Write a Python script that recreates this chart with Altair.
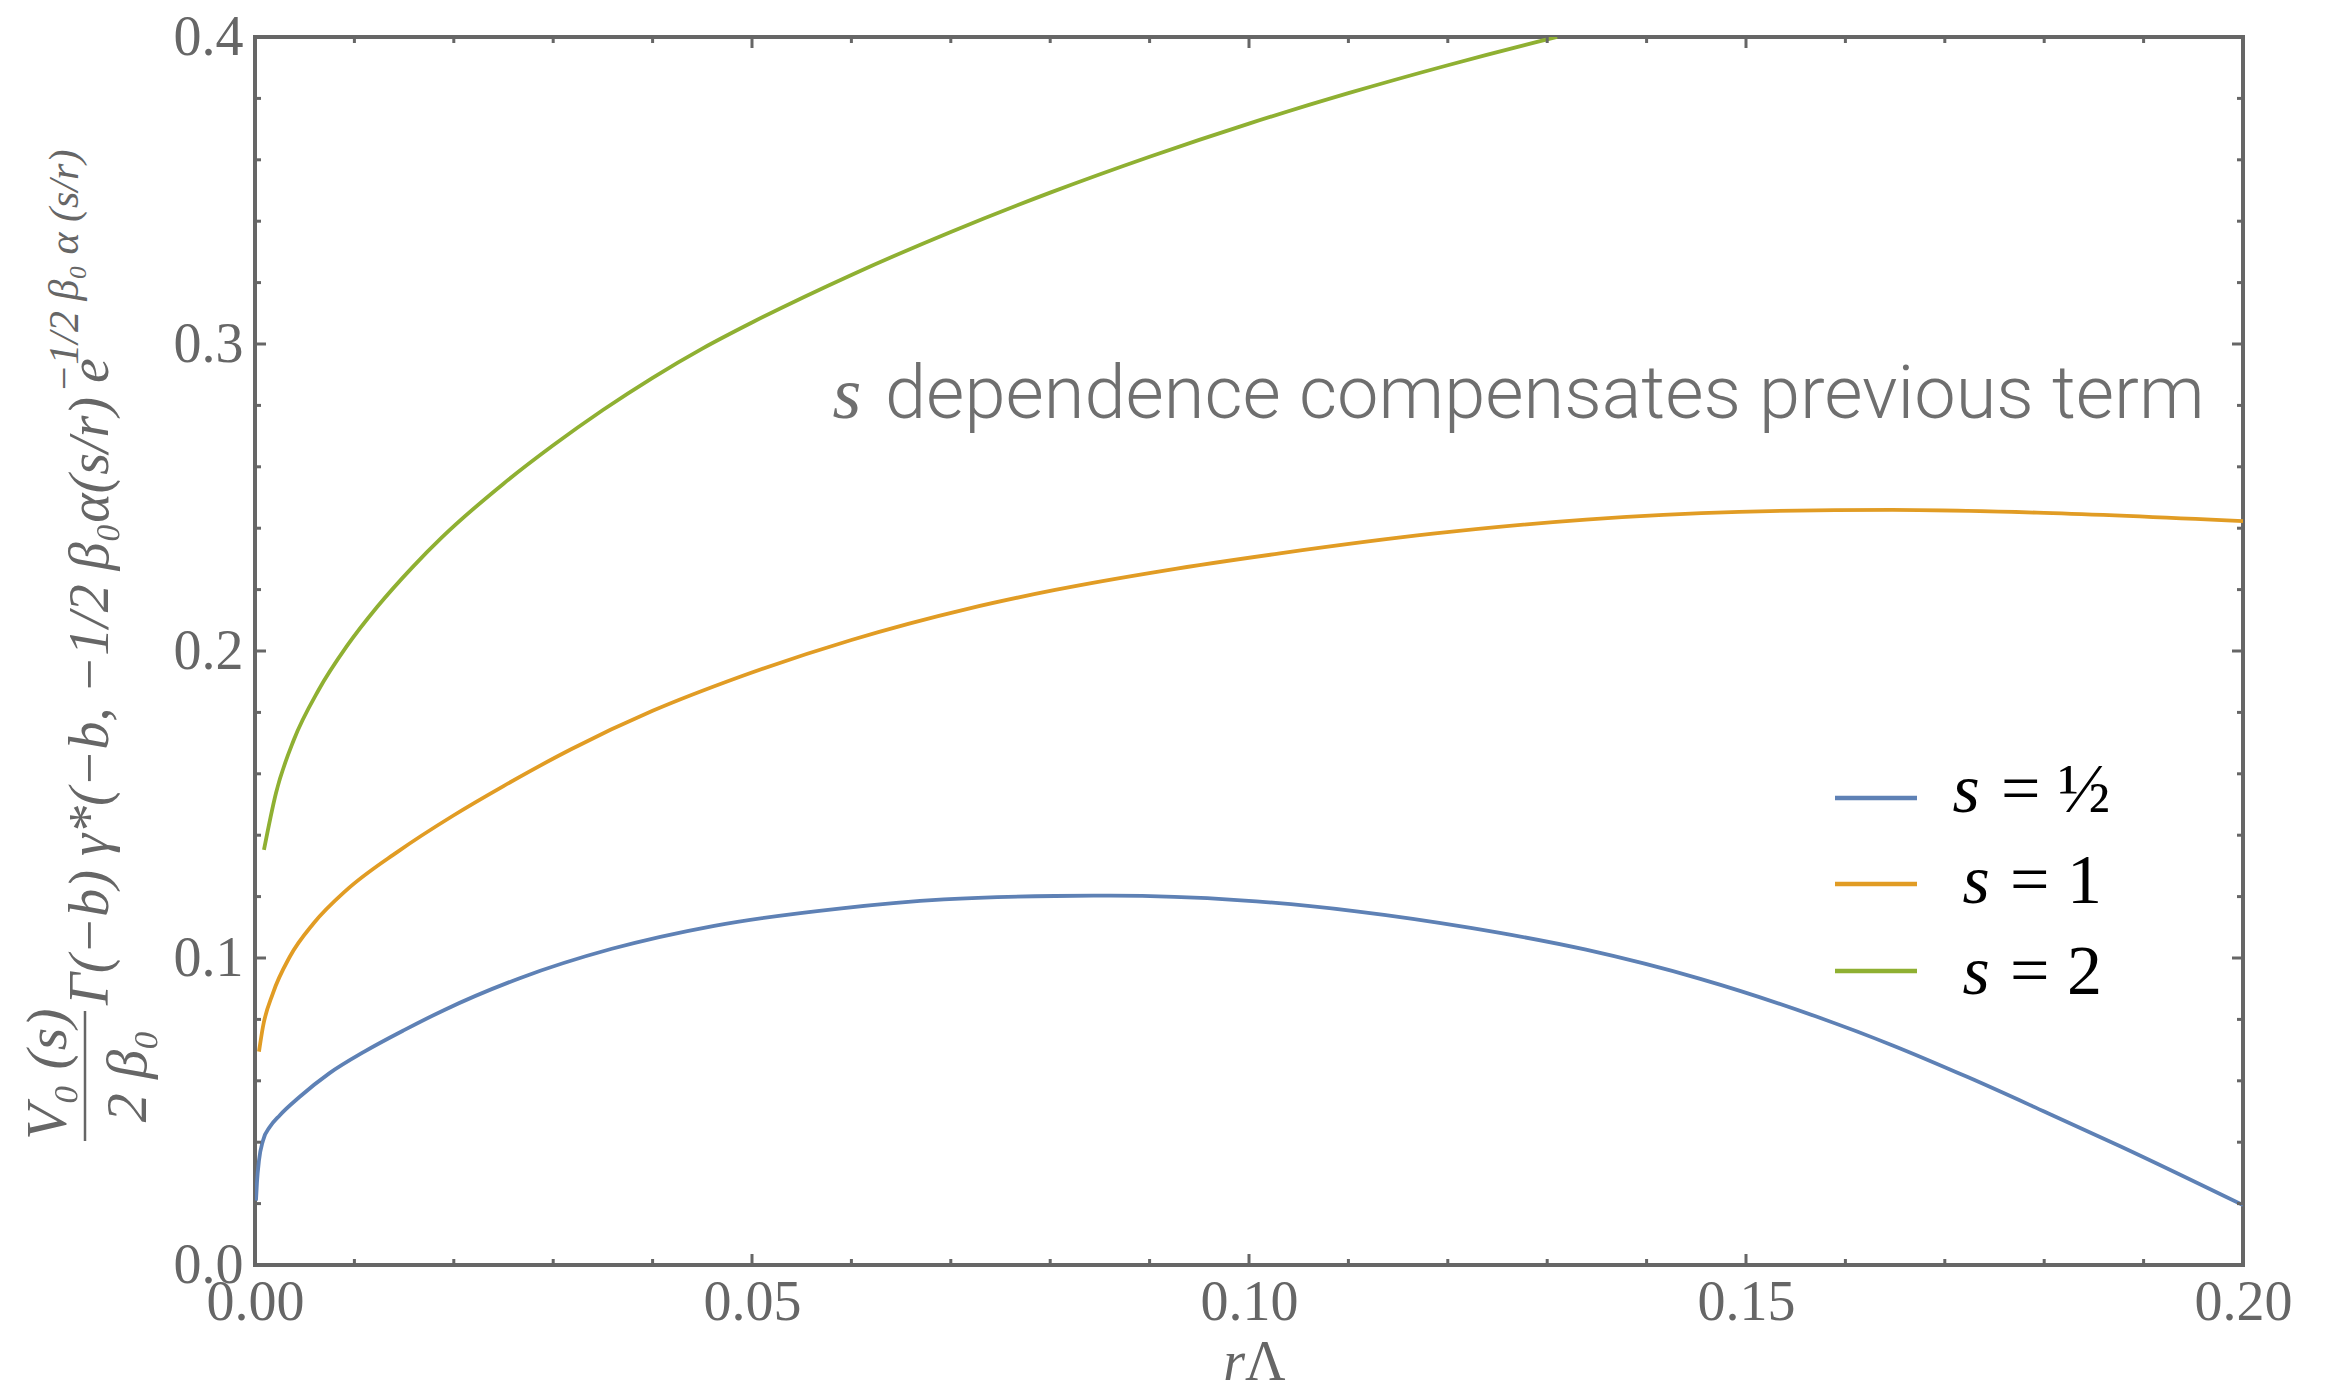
import altair as alt
import pandas as pd

# ---------------- data ----------------
S_LABELS = ["½", "1", "2"]
COLORS = ["#5E81B5", "#E19C24", "#8FB032"]

blue_x = [0.0001, 0.0002, 0.0004, 0.0008, 0.0015, 0.0025, 0.0045, 0.0075, 0.0110, 0.0150,
          0.0190, 0.0267, 0.0359, 0.0462, 0.0590, 0.0693, 0.0805, 0.0861, 0.0992, 0.1108,
          0.1223, 0.1339, 0.1454, 0.1570, 0.1647, 0.1723, 0.1800, 0.1877, 0.2000]
blue_y = [0.021, 0.027, 0.034, 0.0405, 0.0450, 0.0488, 0.0548, 0.0625, 0.0695, 0.0765,
          0.0830, 0.0935, 0.1030, 0.1105, 0.1162, 0.1191, 0.1202, 0.1203, 0.1188, 0.1152,
          0.1098, 0.1027, 0.0932, 0.0810, 0.0716, 0.0612, 0.0500, 0.0386, 0.0195]

orange_x = [0.0004, 0.0008, 0.0018, 0.0035, 0.0059, 0.0092, 0.0143, 0.0200, 0.0250, 0.0318,
            0.0400, 0.0488, 0.0600, 0.0719, 0.0805, 0.0915, 0.1031, 0.1185, 0.1339, 0.1493,
            0.1647, 0.1800, 0.2000]
orange_y = [0.0695, 0.0776, 0.0885, 0.1004, 0.1113, 0.1221, 0.1345, 0.1465, 0.1560, 0.1680,
            0.1805, 0.1916, 0.2036, 0.2139, 0.2199, 0.2262, 0.2318, 0.2382, 0.2428, 0.2453,
            0.2460, 0.2450, 0.2423]

green_x = [0.0009, 0.0021, 0.0039, 0.0064, 0.0092, 0.0123, 0.0159, 0.0188, 0.0250, 0.0300,
           0.0350, 0.0400, 0.0450, 0.0500, 0.0600, 0.0700, 0.0800, 0.0900, 0.1000, 0.1100,
           0.1200, 0.1300, 0.1310]
green_y = [0.1352, 0.1536, 0.1710, 0.1873, 0.2014, 0.2144, 0.2275, 0.2370, 0.2545, 0.2670,
           0.2785, 0.2890, 0.2985, 0.3070, 0.3225, 0.3365, 0.3493, 0.3610, 0.3718, 0.3817,
           0.3908, 0.3992, 0.4000]

X_MAJOR = [0.0, 0.05, 0.10, 0.15, 0.20]
X_MINOR = [0.01, 0.02, 0.03, 0.04, 0.06, 0.07, 0.08, 0.09, 0.11, 0.12, 0.13, 0.14,
           0.16, 0.17, 0.18, 0.19]
Y_MAJOR = [0.0, 0.1, 0.2, 0.3, 0.4]
Y_MINOR = [0.02, 0.04, 0.06, 0.08, 0.12, 0.14, 0.16, 0.18, 0.22, 0.24, 0.26, 0.28,
           0.32, 0.34, 0.36, 0.38]

ANNOTATION = "dependence compensates previous term"

# ---------------- layout ----------------
W, H = 1988, 1228
FRAME = "#666666"
GRAY = "#6f6f6f"
SERIF = "Liberation Serif, Times New Roman, serif"

rows = []
for lab, xs, ys in zip(S_LABELS, [blue_x, orange_x, green_x], [blue_y, orange_y, green_y]):
    for i, (a, b) in enumerate(zip(xs, ys)):
        rows.append({"s": lab, "r": a, "v": b, "i": i})
df = pd.DataFrame(rows)

xscale = alt.Scale(domain=[0, 0.2], nice=False, zero=False)
yscale = alt.Scale(domain=[0, 0.4], nice=False, zero=False)

xaxis = alt.Axis(values=X_MAJOR, format=".2f", grid=False, domain=False, ticks=False,
                 labelFont=SERIF, labelFontSize=56, labelColor=FRAME, labelPadding=10,
                 labelFlush=False, labelOverlap=False, labelBound=False, title=None)
yaxis = alt.Axis(values=Y_MAJOR, format=".1f", grid=False, domain=False, ticks=False,
                 labelFont=SERIF, labelFontSize=56, labelColor=FRAME, labelPadding=12,
                 labelFlush=False, labelOverlap=False, labelBound=False, title=None)

lines = alt.Chart(df).mark_line(strokeWidth=3.8, clip=True, interpolate="monotone").encode(
    x=alt.X("r:Q", scale=xscale, axis=xaxis),
    y=alt.Y("v:Q", scale=yscale, axis=yaxis),
    color=alt.Color("s:N", scale=alt.Scale(domain=S_LABELS, range=COLORS), legend=None),
    order="i:Q",
)

layers = [lines]

# frame ticks (inward, on all four sides)
def xticks(vals, length):
    d = pd.DataFrame({"r": vals})
    out = []
    for y0, y1 in [(H, H - length), (0, length)]:
        out.append(alt.Chart(d).mark_rule(color=FRAME, strokeWidth=3).encode(
            x=alt.X("r:Q", scale=xscale, axis=xaxis),
            y=alt.value(y0), y2=alt.value(y1)))
    return out

def yticks(vals, length):
    d = pd.DataFrame({"v": vals})
    out = []
    for x0, x1 in [(0, length), (W, W - length)]:
        out.append(alt.Chart(d).mark_rule(color=FRAME, strokeWidth=3).encode(
            y=alt.Y("v:Q", scale=yscale, axis=yaxis),
            x=alt.value(x0), x2=alt.value(x1)))
    return out

layers += xticks(X_MAJOR[1:-1], 11) + xticks(X_MINOR, 6)
layers += yticks(Y_MAJOR[1:-1], 11) + yticks(Y_MINOR, 6)

one = pd.DataFrame({"k": [0]})

def text(t, x, y, size, color=GRAY, font=SERIF, style="normal", weight="normal",
         align="left", baseline="alphabetic", angle=0):
    return alt.Chart(one).mark_text(
        text=t, font=font, fontSize=size, fontStyle=style, fontWeight=weight,
        color=color, align=align, baseline=baseline, angle=angle,
    ).encode(x=alt.value(x), y=alt.value(y))

# annotation
layers.append(text("s", 592, 381, 74, style="italic", align="center"))
layers.append(text(ANNOTATION, 630, 381, 74, font="Roboto", weight=300))

# legend
leg_line_y = [761, 847, 934]
leg_text_y = [775, 866, 957]
leg_s_x = [1711, 1721, 1721]
leg_eq_x = [1746, 1755, 1755]
for lab, col, ly, ty, sx, ex in zip(S_LABELS, COLORS, leg_line_y, leg_text_y, leg_s_x, leg_eq_x):
    layers.append(alt.Chart(one).mark_rule(color=col, strokeWidth=4.5).encode(
        x=alt.value(1580), x2=alt.value(1662), y=alt.value(ly)))
    layers.append(text("s", sx, ty, 70, color="black", style="italic", align="center"))
    layers.append(text("= " + lab, ex, ty, 70, color="black"))

# x-axis title  rΛ
layers.append(text("r", 990, 1343, 56, color=FRAME, style="italic", align="right"))
layers.append(text("Λ", 990, 1343, 56, color=FRAME))

# y-axis title (rotated formula)
layers.append(text("V₀ (s)", -206, 1037, 58, color=FRAME, style="italic",
                   align="center", baseline="middle", angle=270))
layers.append(alt.Chart(one).mark_rule(color=FRAME, strokeWidth=2.5).encode(
    x=alt.value(-170), y=alt.value(974), y2=alt.value(1104)))
layers.append(text("2 β₀", -126, 1039, 58, color=FRAME, style="italic",
                   align="center", baseline="middle", angle=270))
layers.append(text("Γ(−b) γ*(−b, −1/2 β₀α(s/r) e", -164, 968, 56, color=FRAME,
                   style="italic", align="left", baseline="middle", angle=270))
layers.append(text("−1/2 β₀ α (s/r)", -190, 356, 42, color=FRAME, style="italic",
                   align="left", baseline="middle", angle=270))

chart = alt.layer(*layers).properties(
    width=W, height=H,
    padding={"left": 255, "top": 37, "right": 82, "bottom": 131},
    autosize=alt.AutoSizeParams(type="none"),
    background="white",
).configure_view(stroke=FRAME, strokeWidth=4)

chart.save("out.html", embed_options={"renderer": "svg", "actions": False})
